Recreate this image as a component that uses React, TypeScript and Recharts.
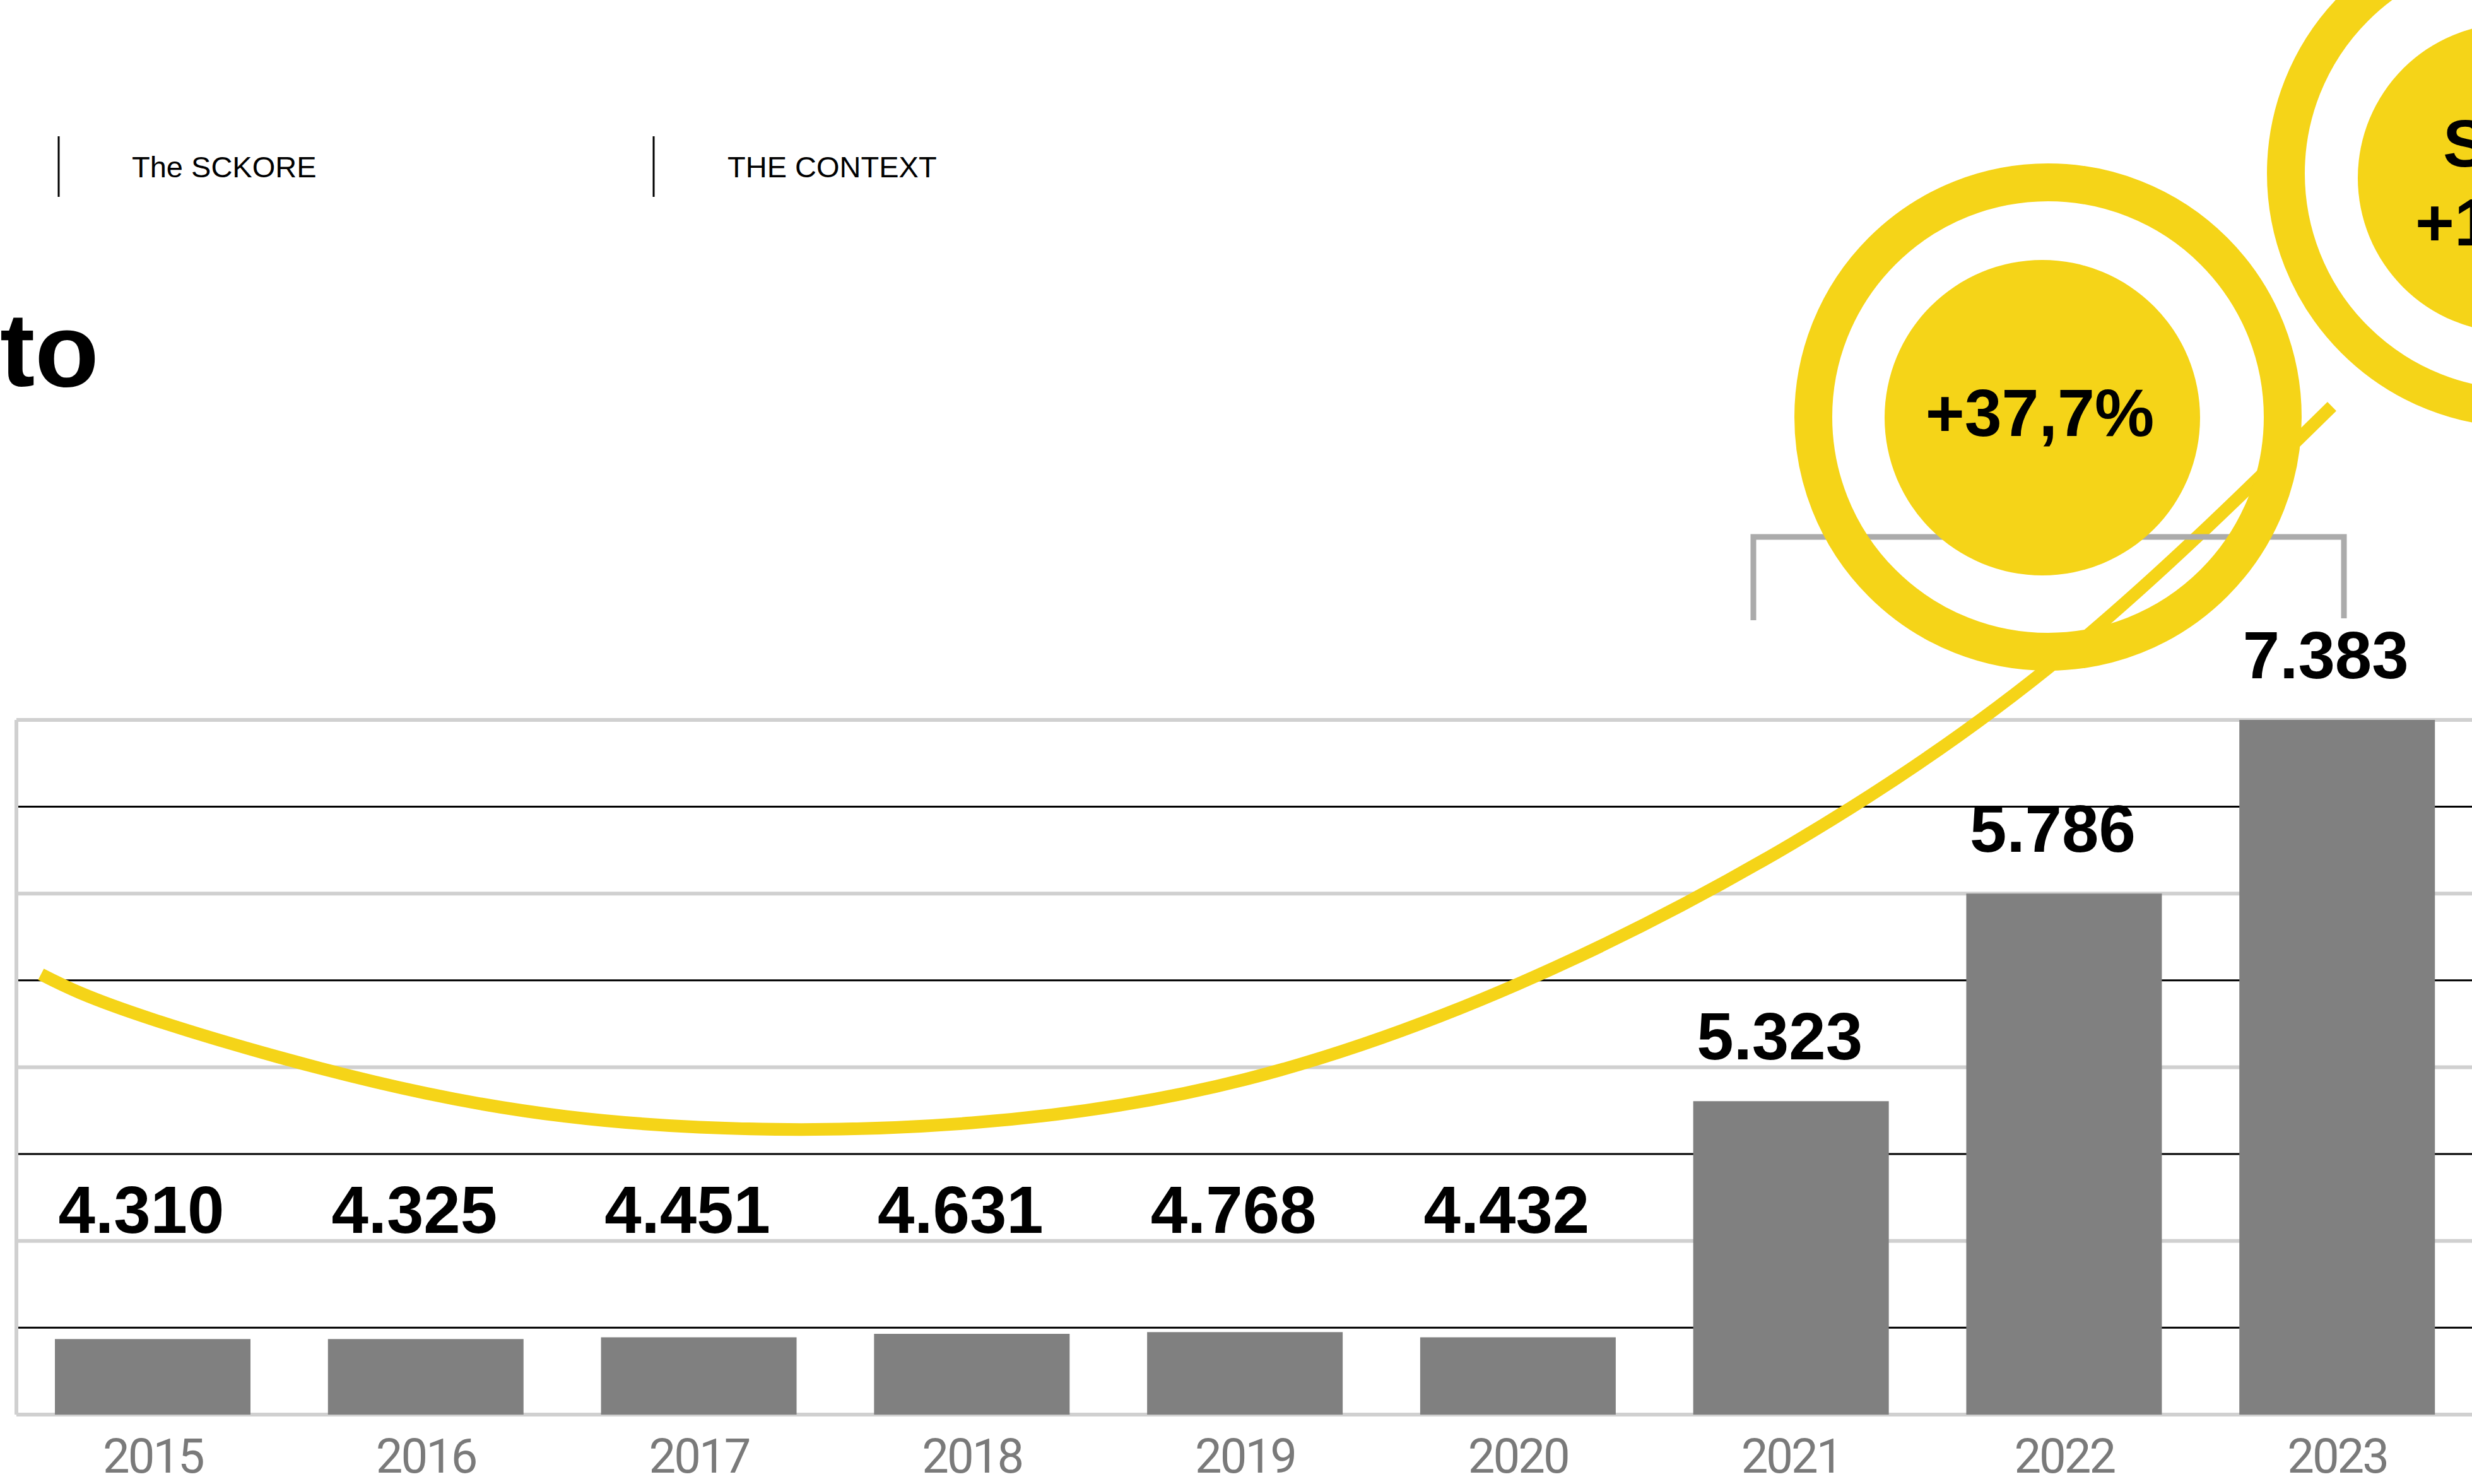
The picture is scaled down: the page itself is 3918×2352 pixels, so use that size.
import React from "react";
import {
  ComposedChart, Bar, Line, XAxis, YAxis, CartesianGrid, ReferenceLine, LabelList,
} from "recharts";

// categories + values printed above the bars
const YEARS = ["2015", "2016", "2017", "2018", "2019", "2020", "2021", "2022", "2023"];
const VALUES = [4310, 4325, 4451, 4631, 4768, 4432, 5323, 5786, 7383];
// bar heights as drawn, in grid steps (the bars are not drawn to the printed scale)
const BAR_LEVELS = [0.87, 0.87, 0.89, 0.93, 0.95, 0.89, 3.61, 6.0, 8.0];

// yellow trend curve, position in category units and height in grid steps
const TREND_T = [-0.41, 0, 1, 2, 3, 4, 5, 6, 7, 7.98];
const TREND_V = [5.07, 4.55, 3.7, 3.31, 3.36, 3.86, 4.96, 6.57, 8.75, 11.61];

// grid steps: even ones light grey, odd ones black
const GRID_STEPS = [0, 1, 2, 3, 4, 5, 6, 7, 8];

const HEADER = ["The SCKORE", "THE CONTEXT"];
const BUBBLE_MAIN = "+37,7%";
const BUBBLE_SIDE = ["SCKORE", "+171%"];

const rows = YEARS.map((year, i) => ({ year, level: BAR_LEVELS[i], value: VALUES[i] }));
const trendRows = TREND_T.map((t, i) => ({ t, v: TREND_V[i] }));

const W = 3918;
const H = 2352;
const AXIS_H = 110;
const PLOT_BOTTOM = H - AXIS_H;
const VMAX = 16.29;
const STEP = PLOT_BOTTOM / VMAX;
const YELLOW = "#F5D418";
const SANS = "'Liberation Sans', Arial, Helvetica, sans-serif";

const fmt = (v: number) => `${Math.floor(v / 1000)}.${String(v % 1000).padStart(3, "0")}`;

function GridLine(p: any) {
  const y = Number(p.y1);
  const step = Math.round((PLOT_BOTTOM - y) / STEP);
  if (step < 0 || step > 8) return <g />;
  const grey = step % 2 === 0;
  return (
    <line x1={p.x1} y1={p.y1} x2={p.x2} y2={p.y2}
      stroke={grey ? "#d0d0d0" : "#000"} strokeWidth={grey ? 6 : 3} />
  );
}

function ValueLabel(props: any) {
  const vb = props.viewBox ?? props;
  const x = Number(vb.x ?? props.x);
  const y = Number(vb.y ?? props.y);
  const w = Number(vb.width ?? props.width);
  const h = Number(vb.height ?? props.height);
  const top = Math.min(y, y + h);
  const bottom = Math.max(y, y + h);
  // sits above the bar, but never lower than the common row of the small bars
  const baseline = Math.min(top - 66, bottom - 288);
  return (
    <text x={x + w / 2 - 18} y={baseline} textAnchor="middle" fontFamily={SANS} fontWeight={700} fontSize={105} fill="#000">
      {fmt(Number(props.value))}
    </text>
  );
}

export default function App() {
  return (
    <div style={{ position: "absolute", left: 0, top: 0, width: W, height: H, overflow: "hidden", background: "#fff" }}>
      <div style={{ position: "absolute", left: 0, top: 0 }}>
        <ComposedChart width={3930} height={H} data={rows} margin={{ top: 0, right: 9, bottom: 0, left: 26 }}>
          <XAxis xAxisId="cat" dataKey="year" height={AXIS_H} axisLine={false} tickLine={false} tickSize={0}
            tickMargin={38} interval={0}
            tick={{ fill: "#7a7a7a", fontSize: 76, fontFamily: "Roboto, sans-serif", fontWeight: 400, letterSpacing: -3 }} />
          <XAxis xAxisId="t" type="number" dataKey="t" domain={[-0.5, 8.5]} hide />
          <YAxis yAxisId="v" type="number" domain={[0, VMAX]} ticks={GRID_STEPS} hide />

          <CartesianGrid xAxisId="cat" yAxisId="v" vertical={false} horizontal={GridLine} />

          <Bar xAxisId="cat" yAxisId="v" dataKey="level" fill="#808080" barSize={310} isAnimationActive={false}>
            <LabelList dataKey="value" content={ValueLabel} />
          </Bar>

          <ReferenceLine xAxisId="t" yAxisId="v" ifOverflow="visible"
            segment={[{ x: -0.5, y: 0 }, { x: -0.5, y: 8 }]} stroke="#d0d0d0" strokeWidth={6} />

          <Line xAxisId="t" yAxisId="v" data={trendRows} dataKey="v" type="natural" stroke={YELLOW}
            strokeWidth={20} dot={false} activeDot={false} isAnimationActive={false} />
        </ComposedChart>
      </div>

      {/* header, title fragment and the call-out bubbles */}
      <svg width={W} height={H} style={{ position: "absolute", left: 0, top: 0 }}>
        <line x1={93} y1={216} x2={93} y2={312} stroke="#000" strokeWidth={3} />
        <text x={209} y={281} fontFamily={SANS} fontSize={47} fill="#000">{HEADER[0]}</text>
        <line x1={1036} y1={216} x2={1036} y2={312} stroke="#000" strokeWidth={3} />
        <text x={1153} y={281} fontFamily={SANS} fontSize={47} fill="#000">{HEADER[1]}</text>

        <text x={0} y={612} fontFamily={SANS} fontWeight={700} fontSize={166} fill="#000">to</text>

        <path d="M2779,983 V851 H3715 V980" fill="none" stroke="#ababab" strokeWidth={9} />

        <circle cx={3246} cy={661} r={372} fill="none" stroke={YELLOW} strokeWidth={60} />
        <circle cx={3237} cy={662} r={250} fill={YELLOW} />
        <text x={3233} y={691} textAnchor="middle" fontFamily={SANS} fontWeight={700} fontSize={106} fill="#000">
          {BUBBLE_MAIN}
        </text>

        <circle cx={3995} cy={275} r={372} fill="none" stroke={YELLOW} strokeWidth={60} />
        <circle cx={3982} cy={282} r={245} fill={YELLOW} />
        <text x={3872} y={264} fontFamily={SANS} fontWeight={700} fontSize={106} fill="#000">{BUBBLE_SIDE[0]}</text>
        <text x={3828} y={389} fontFamily={SANS} fontWeight={700} fontSize={106} fill="#000">{BUBBLE_SIDE[1]}</text>
      </svg>
    </div>
  );
}
